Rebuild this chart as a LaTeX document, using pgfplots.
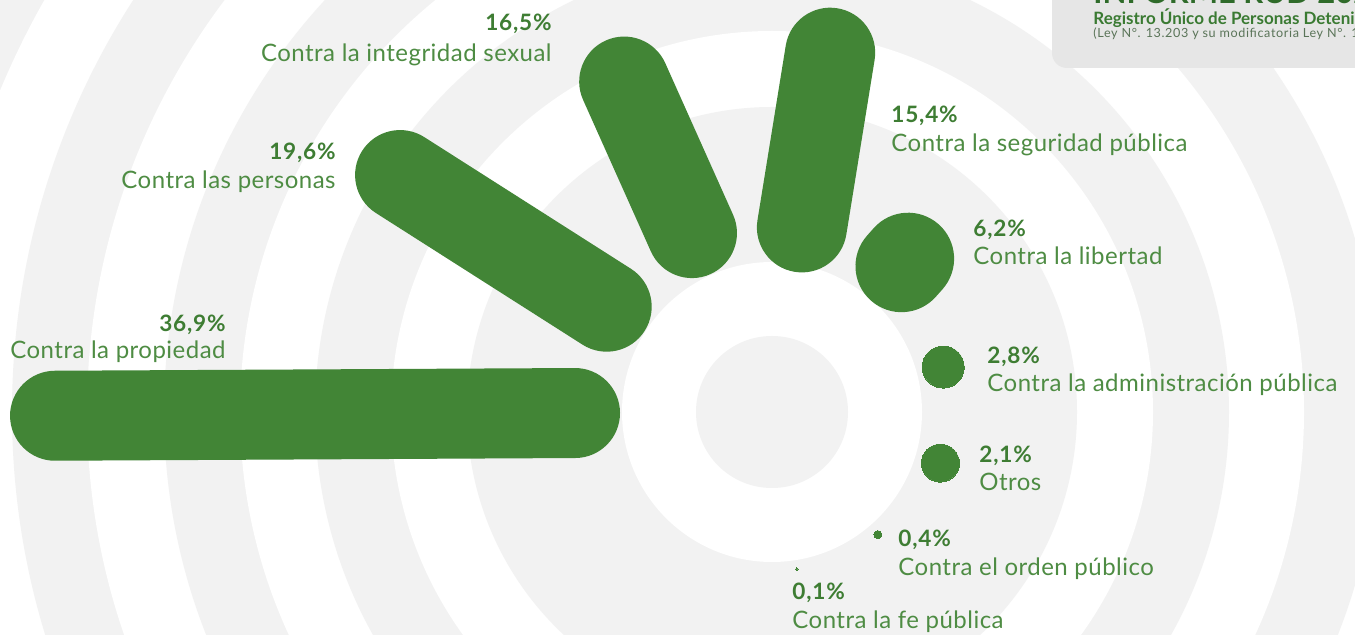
\documentclass[border=0pt]{standalone}
\usepackage{pgfplots}
\pgfplotsset{compat=1.18}
\usepackage{fontspec}
\setmainfont{Lato}
\newfontfamily\nmfont[LetterSpace=2]{Lato}
\newfontfamily\pctfont[LetterSpace=3.5]{Lato}
\newfontfamily\notefont[LetterSpace=5]{Lato}
\definecolor{barG}{HTML}{428536}
\definecolor{txtG}{HTML}{4E8C43}
\definecolor{pctG}{HTML}{3E7D33}
\definecolor{ringG}{HTML}{F2F2F2}
\definecolor{boxG}{HTML}{E6E6E6}
\definecolor{noteG}{HTML}{5A7458}
\definecolor{titleG}{HTML}{2F6B2A}
\definecolor{subG}{HTML}{3A7A32}
\pgfplotsset{
  bar/.style={color=barG, line cap=round, no markers, data cs=polar},
  dot/.style={color=barG, only marks, mark=*, mark options={fill=barG, draw=barG, line width=0pt}, data cs=polar}}
\tikzset{
  pct/.style={text=pctG, font=\pctfont\fontsize{11.3}{13}\selectfont\bfseries, inner sep=0pt},
  nm/.style={text=txtG, font=\nmfont\fontsize{12}{14}\selectfont, inner sep=0pt}}
\begin{document}
\begin{tikzpicture}
\clip[use as bounding box] (0,0) rectangle (677.5pt,317.5pt);
\begin{axis}[at={(0,0)}, anchor=south west, x=0.5pt, y=0.5pt,
  xmin=-772, xmax=583, ymin=-223, ymax=412, hide axis, clip=false]
% background rings
\fill[ringG] (axis cs:0,0) circle[radius=912];
\fill[white] (axis cs:0,0) circle[radius=836];
\fill[ringG] (axis cs:0,0) circle[radius=760];
\fill[white] (axis cs:0,0) circle[radius=685];
\fill[ringG] (axis cs:0,0) circle[radius=608];
\fill[white] (axis cs:0,0) circle[radius=532];
\fill[ringG] (axis cs:0,0) circle[radius=457];
\fill[white] (axis cs:0,0) circle[radius=381];
\fill[ringG] (axis cs:0,0) circle[radius=305];
\fill[white] (axis cs:0,0) circle[radius=150];
\fill[ringG] (axis cs:0,0) circle[radius=76];
% header box
\fill[boxG, rounded corners=7.5pt] (axis cs:280,470) rectangle (axis cs:620,344);
\node[anchor=base west, inner sep=0pt, text=titleG, font=\fontsize{15.5}{18}\selectfont\bfseries] at (axis cs:321,408) {INFORME RUD 2023};
\node[anchor=base west, inner sep=0pt, text=subG, font=\fontsize{8.5}{10}\selectfont\bfseries] at (axis cs:321,387) {Registro Único de Personas Detenidas};
\node[anchor=base west, inner sep=0pt, text=noteG, font=\notefont\fontsize{6.3}{7}\selectfont] at (axis cs:321,374) {(Ley N°. 13.203 y su modificatoria Ley N°. 13.482)};
% bars (angle, radius)
\addplot[bar, line width=45pt] coordinates {(180.3,197) (180.3,717)};
\addplot[bar, line width=45pt] coordinates {(147.5,196) (147.5,441)};
\addplot[bar, line width=45pt] coordinates {(114.1,196) (114.1,362)};
\addplot[bar, line width=45pt] coordinates {(80.8,187) (80.8,364)};
\addplot[bar, line width=46pt] coordinates {(48.4,195) (48.4,205)};
\addplot[dot, mark size=10.5pt] coordinates {(14.7,177)};
\addplot[dot, mark size=9.5pt] coordinates {(-16.9,176)};
\addplot[dot, mark size=2pt] coordinates {(-49.2,162)};
\addplot[dot, mark size=0.6pt] coordinates {(-81,159)};
% labels
\node[pct, anchor=base east] at (axis cs:-220,381) {16,5\%};
\node[nm, anchor=base east] at (axis cs:-220,350) {Contra la integridad sexual};
\node[pct, anchor=base east] at (axis cs:-436,252) {19,6\%};
\node[nm, anchor=base east] at (axis cs:-436,223) {Contra las personas};
\node[pct, anchor=base east] at (axis cs:-546,80) {36,9\%};
\node[nm, anchor=base east] at (axis cs:-546,53) {Contra la propiedad};
\node[pct, anchor=base west] at (axis cs:119,289) {15,4\%};
\node[nm, anchor=base west] at (axis cs:119,260) {Contra la seguridad pública};
\node[pct, anchor=base west] at (axis cs:201,175) {6,2\%};
\node[nm, anchor=base west] at (axis cs:201,147) {Contra la libertad};
\node[pct, anchor=base west] at (axis cs:215,48) {2,8\%};
\node[nm, anchor=base west] at (axis cs:215,20) {Contra la administración pública};
\node[pct, anchor=base west] at (axis cs:207,-51) {2,1\%};
\node[nm, anchor=base west] at (axis cs:207,-79) {Otros};
\node[pct, anchor=base west] at (axis cs:126,-135) {0,4\%};
\node[nm, anchor=base west] at (axis cs:126,-164) {Contra el orden público};
\node[pct, anchor=base west] at (axis cs:20,-188) {0,1\%};
\node[nm, anchor=base west] at (axis cs:20,-217) {Contra la fe pública};
\end{axis}
\end{tikzpicture}
\end{document}
